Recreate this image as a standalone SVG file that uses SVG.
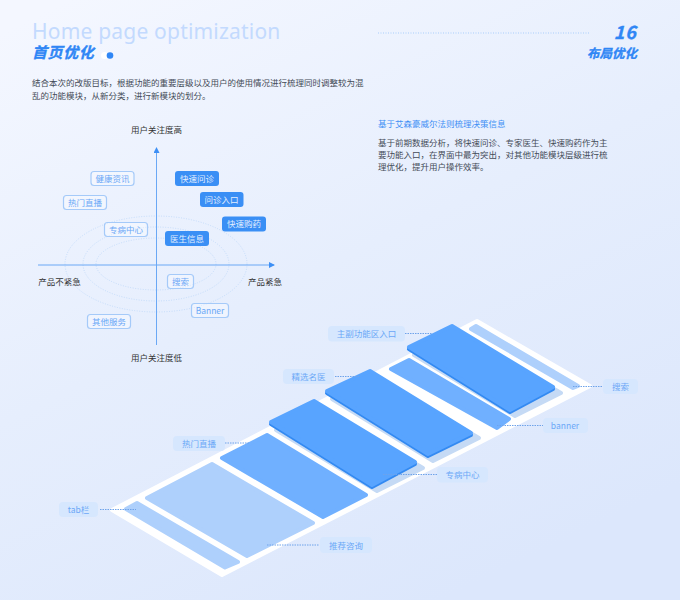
<svg xmlns="http://www.w3.org/2000/svg" width="680" height="600" viewBox="0 0 680 600">
<defs>
<linearGradient id="bg" x1="0.1" y1="0" x2="0.65" y2="1"><stop offset="0" stop-color="#f4f7ff"/><stop offset="0.5" stop-color="#e6eefd"/><stop offset="1" stop-color="#dce7fc"/></linearGradient>
<marker id="arr" viewBox="0 0 6 6" refX="5" refY="3" markerWidth="6" markerHeight="6" markerUnits="userSpaceOnUse" orient="auto"><path d="M0 0L6 3L0 6z" fill="#3d8ff5"/></marker>
</defs>
<style>
text{font-family:"Noto Sans CJK SC","Noto Sans",sans-serif}
.b{font-size:8.5px;fill:#444b57}
.ax{font-size:8.5px;fill:#333;text-anchor:middle}
.tl{fill:#fff;fill-opacity:.35;stroke:#a5caf9;stroke-width:1.2}
.td{fill:#3a8ff5}
.tt{font-size:8.5px;text-anchor:middle;fill:#6ba8f7}
.ttd{font-size:8.5px;text-anchor:middle;fill:#e2eeff}
.h{font-weight:700;font-style:italic;fill:#2f86f5;stroke:#2f86f5;stroke-width:.35}
.el{fill:none;stroke:#b5d2f8;stroke-width:.7;stroke-dasharray:1 1.5}
.ln{fill:none;stroke:#6ea3ea;stroke-width:1;stroke-dasharray:1.5 1}
.pill{fill:#d6e7fe}
.pt{font-size:8.5px;text-anchor:middle;fill:#6ba8f7}
.p1{fill:#aed0fc;stroke:#aed0fc;stroke-width:4;stroke-linejoin:round}
.p2{fill:#70b0ff;stroke:#70b0ff;stroke-width:4;stroke-linejoin:round}
.p3{fill:#58a4ff;stroke:#58a4ff;stroke-width:4;stroke-linejoin:round}
.e{fill:#338af2;stroke:#338af2;stroke-width:4;stroke-linejoin:round}
.s{fill:#c5daf5;stroke:#c5daf5;stroke-width:4;stroke-linejoin:round}
</style>
<rect width="680" height="600" fill="url(#bg)"/>
<g id="header">
<text x="32" y="38.500" font-size="21" letter-spacing=".2" fill="#c3dafe" style="font-family:'Noto Sans',sans-serif">Home page optimization</text>
<text x="32" y="58" font-size="15" class="h" letter-spacing=".6">首页优化</text>
<circle cx="104.500" cy="55.500" r="3.500" fill="#fff"/><circle cx="110" cy="55.500" r="3.300" fill="#2f86f5"/>
<line x1="378" y1="33" x2="590" y2="33" stroke="#a9cdfb" stroke-width="1" stroke-dasharray="1 1.500"/>
<text x="637" y="39" font-size="18" text-anchor="end" class="h" letter-spacing="1">16</text>
<text x="637" y="58" font-size="12.500" text-anchor="end" class="h">布局优化</text>
</g>
<g id="intro">
<text x="32" y="86" class="b">结合本次的改版目标，根据功能的重要层级以及用户的使用情况进行梳理同时调整较为混</text>
<text x="32" y="98.500" class="b">乱的功能模块，从新分类，进行新模块的划分。</text>
</g>
<g id="note">
<text x="378" y="127" font-size="8.500" fill="#3f8ff5">基于艾森豪威尔法则梳理决策信息</text>
<text x="378" y="146" class="b">基于前期数据分析，将快速问诊、专家医生、快速购药作为主</text>
<text x="378" y="158" class="b">要功能入口，在界面中最为突出，对其他功能模块层级进行梳</text>
<text x="378" y="170" class="b">理优化，提升用户操作效率。</text>
</g>
<g id="chart-rings">
<ellipse class="el" cx="156" cy="264" rx="91" ry="48"/>
<ellipse class="el" cx="156" cy="264" rx="73" ry="37"/>
<ellipse class="el" cx="156" cy="264" rx="60" ry="26"/>
</g>
<g id="chart-axes">
<line x1="156.500" y1="345" x2="156.500" y2="148" stroke="#6aa8f5" stroke-width="1" marker-end="url(#arr)"/>
<line x1="38" y1="265" x2="274" y2="265" stroke="#6aa8f5" stroke-width="1" marker-end="url(#arr)"/>
<text x="156.500" y="133" class="ax">用户关注度高</text>
<text x="156.500" y="361" class="ax">用户关注度低</text>
<text x="59.500" y="285" class="ax">产品不紧急</text>
<text x="265" y="285" class="ax">产品紧急</text>
</g>
<g id="t1"><rect class="tl" x="91" y="171.500" width="43" height="14" rx="3"/><text class="tt" x="112.500" y="181.500">健康资讯</text></g>
<g id="t2"><rect class="tl" x="63.500" y="195.500" width="43" height="14" rx="3"/><text class="tt" x="85" y="205.500">热门直播</text></g>
<g id="t3"><rect class="tl" x="104.500" y="222.500" width="43" height="14" rx="3"/><text class="tt" x="126" y="232.500">专病中心</text></g>
<g id="t4"><rect class="td" x="175" y="171" width="44" height="15" rx="3"/><text class="ttd" x="197" y="181.500">快速问诊</text></g>
<g id="t5"><rect class="td" x="200" y="192" width="43.500" height="15" rx="3"/><text class="ttd" x="221.500" y="202.500">问诊入口</text></g>
<g id="t6"><rect class="td" x="222" y="216.500" width="44" height="15" rx="3"/><text class="ttd" x="244" y="227">快速购药</text></g>
<g id="t7"><rect class="td" x="165" y="231" width="44" height="15" rx="3"/><text class="ttd" x="187" y="241.500">医生信息</text></g>
<g id="t8"><rect class="tl" x="167.500" y="274.500" width="26" height="14" rx="3"/><text class="tt" x="180.500" y="284.500">搜索</text></g>
<g id="t9"><rect class="tl" x="191.500" y="303.500" width="37" height="14" rx="3"/><text class="tt" x="210" y="313.500">Banner</text></g>
<g id="t10"><rect class="tl" x="87.500" y="314.500" width="43" height="14" rx="3"/><text class="tt" x="109" y="324.500">其他服务</text></g>
<g id="plate"><polygon points="112,510 477,321 590,386 222,575" fill="#fff" stroke="#fff" stroke-width="4" stroke-linejoin="round"/></g>
<g id="panel-tab"><polygon class="p1" points="126,509 137,503 238,562 225,567.500"/></g>
<g id="panel-rec"><polygon class="p1" points="147,498 212,464 313,523 247,556"/></g>
<g id="panel-hot"><polygon class="p2" points="222,458 267,435 366,495 323,517"/></g>
<g id="panel-search"><polygon class="p1" points="471,329 476,326 578,386 573,388"/></g>
<g id="panel-banner"><polygon class="p2" points="391,369 409,360 509,419 497,428"/></g>
<g id="panel-spec">
<polygon class="s" points="276,430 319,407 423,468 377,491"/>
<polygon class="e" points="271,424 314,403 415,464 372,487"/>
<polygon class="p3" points="271,422 314,401 415,462 372,485"/>
</g>
<g id="panel-doc">
<polygon class="s" points="332,399 375,377 479,438 433,461"/>
<polygon class="e" points="327,393 370,373 471,435 428,456"/>
<polygon class="p3" points="327,391 370,371 471,433 428,454"/>
</g>
<g id="panel-main">
<polygon class="s" points="414,355 457,332 561,393 515,416"/>
<polygon class="e" points="409,349 452,328 553,389 510,412"/>
<polygon class="p3" points="409,347 452,326 553,387 510,410"/>
</g>
<g id="connectors">
<line class="ln" x1="100" y1="509.500" x2="136" y2="509.500"/>
<line class="ln" x1="267" y1="545" x2="319" y2="545"/>
<line class="ln" x1="225" y1="443" x2="250" y2="443"/>
<line class="ln" x1="335" y1="376.500" x2="360" y2="376.500"/>
<line class="ln" x1="405" y1="333.500" x2="432" y2="333.500"/>
<line class="ln" x1="383" y1="474.500" x2="437" y2="474.500"/>
<line class="ln" x1="497" y1="425.500" x2="543" y2="425.500"/>
<line class="ln" x1="573" y1="386.500" x2="603" y2="386.500"/>
</g>
<g id="l1"><rect class="pill" x="59" y="502" width="39" height="15" rx="4"/><text class="pt" x="78.500" y="513">tab栏</text></g>
<g id="l2"><rect class="pill" x="320" y="537" width="52" height="16" rx="4"/><text class="pt" x="346" y="548.500">推荐咨询</text></g>
<g id="l3"><rect class="pill" x="173" y="436" width="52" height="15" rx="4"/><text class="pt" x="199" y="447">热门直播</text></g>
<g id="l4"><rect class="pill" x="283" y="369" width="51" height="15" rx="4"/><text class="pt" x="308.500" y="380">精选名医</text></g>
<g id="l5"><rect class="pill" x="328" y="326" width="77" height="15.500" rx="4"/><text class="pt" x="366.500" y="337">主副功能区入口</text></g>
<g id="l6"><rect class="pill" x="437" y="467" width="51" height="15.500" rx="4"/><text class="pt" x="462.500" y="478">专病中心</text></g>
<g id="l7"><rect class="pill" x="543" y="418" width="45" height="15" rx="4"/><text class="pt" x="565" y="428.500">banner</text></g>
<g id="l8"><rect class="pill" x="603" y="379" width="35" height="15" rx="4"/><text class="pt" x="620.500" y="390">搜索</text></g>
</svg>
